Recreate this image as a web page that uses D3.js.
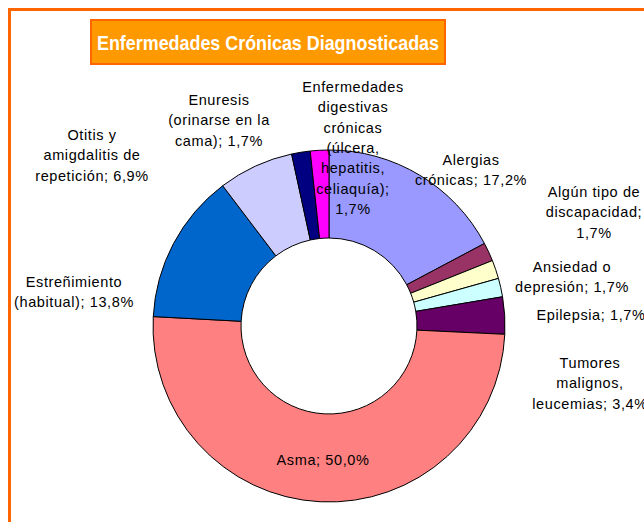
<!DOCTYPE html>
<html lang='es'>
  <head>
    <meta charset='utf-8'>
    <style type='text/css'>
      body { margin: 0; background-color: #fff; }
      #chart { width: 644px; height: 522px; }
      text { font-family: Arial, 'Liberation Sans', sans-serif; }
    </style>
  </head>
  <body>
    <div id='chart'><svg width='644' height='522'></svg></div>

    <script src='https://d3js.org/d3.v7.min.js'></script>
    <script type='text/javascript'>
        // Chart data (clockwise from 12 o'clock)
        var categories = [
          "Alergias crónicas",
          "Algún tipo de discapacidad",
          "Ansiedad o depresión",
          "Epilepsia",
          "Tumores malignos, leucemias",
          "Asma",
          "Estreñimiento (habitual)",
          "Otitis y amigdalitis de repetición",
          "Enuresis (orinarse en la cama)",
          "Enfermedades digestivas crónicas (úlcera, hepatitis, celiaquía)"
        ];
        var percents = [17.2, 1.7, 1.7, 1.7, 3.4, 50.0, 13.8, 6.9, 1.7, 1.7];
        var colors = ["#9999FF", "#993366", "#FFFFCC", "#CCFFFF", "#660066",
                      "#FF8080", "#0066CC", "#CCCCFF", "#000080", "#FF00FF"];

        // label text broken the way the original wraps it
        var labelLines = [
          ["Alergias", "crónicas; 17,2%"],
          ["Algún tipo de", "discapacidad;", "1,7%"],
          ["Ansiedad o", "depresión; 1,7%"],
          ["Epilepsia; 1,7%"],
          ["Tumores", "malignos,", "leucemias; 3,4%"],
          ["Asma; 50,0%"],
          ["Estreñimiento", "(habitual); 13,8%"],
          ["Otitis y", "amigdalitis de", "repetición; 6,9%"],
          ["Enuresis", "(orinarse en la", "cama); 1,7%"],
          ["Enfermedades", "digestivas", "crónicas", "(úlcera,", "hepatitis,", "celiaquía);", "1,7%"]
        ];
        // where each label block sits (center x, first line y)
        var labelPos = [
          [471, 165], [594, 197], [572, 272], [591, 320], [590, 368],
          [323, 465], [74, 287], [92, 140], [219, 105], [353, 92]
        ];

        var svg = d3.select("#chart svg");

        // outer frame
        svg.append("rect")
          .attr("x", 9.5).attr("y", 9.5)
          .attr("width", 700).attr("height", 600)
          .attr("fill", "#fff")
          .attr("stroke", "#FF6600").attr("stroke-width", 3);

        // title box
        svg.append("rect")
          .attr("x", 91).attr("y", 20)
          .attr("width", 354).attr("height", 44)
          .attr("fill", "#FF9900")
          .attr("stroke", "#FF6600").attr("stroke-width", 2);
        svg.append("text")
          .attr("x", 268).attr("y", 50)
          .attr("text-anchor", "middle")
          .attr("fill", "#fff")
          .attr("textLength", 342)
          .attr("lengthAdjust", "spacingAndGlyphs")
          .style("font-size", "21px").style("font-weight", "bold")
          .text("Enfermedades Crónicas Diagnosticadas");

        // donut
        var cx = 329, cy = 326, outerR = 176, innerR = 88;
        var pie = d3.pie().sort(null).value(function(d) { return d; });
        var arc = d3.arc().innerRadius(innerR).outerRadius(outerR);

        var g = svg.append("g").attr("transform", "translate(" + cx + "," + cy + ")");
        g.selectAll("path")
          .data(pie(percents))
          .enter().append("path")
          .attr("d", arc)
          .attr("fill", function(d, i) { return colors[i]; })
          .attr("stroke", "#000")
          .attr("stroke-width", 1);

        // labels
        var lab = svg.selectAll(".lab")
          .data(labelLines)
          .enter().append("text")
          .attr("class", "lab")
          .attr("text-anchor", "middle")
          .attr("fill", "#000")
          .style("font-size", "14.5px")
          .style("letter-spacing", "0.6px");

        lab.selectAll("tspan")
          .data(function(d, i) { return d.map(function(s) { return {s: s, i: i}; }); })
          .enter().append("tspan")
          .attr("x", function(d) { return labelPos[d.i][0]; })
          .attr("y", function(d, j) { return labelPos[d.i][1] + j * 20.3; })
          .text(function(d) { return d.s; });
    </script>
  </body>
</html>
